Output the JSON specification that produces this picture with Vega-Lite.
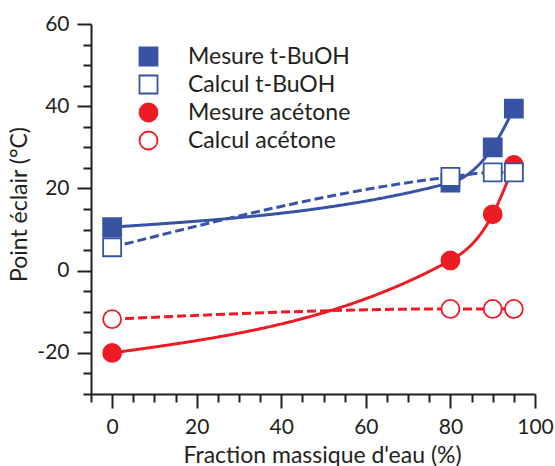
{
  "$schema": "https://vega.github.io/schema/vega-lite/v6.json",
  "width": 444,
  "height": 370,
  "autosize": {"type": "none"},
  "padding": {"left": 91, "top": 24, "right": 20, "bottom": 72},
  "background": "white",
  "config": {
    "view": {"stroke": null},
    "font": "Lato",
    "axis": {
      "domainColor": "#231f20",
      "domainWidth": 2,
      "tickColor": "#231f20",
      "tickWidth": 2,
      "grid": false,
      "labelColor": "#231f20",
      "labelFontSize": 21,
      "labelFont": "Lato",
      "titleColor": "#231f20",
      "titleFontSize": 23,
      "titleFont": "Lato",
      "titleFontWeight": "normal"
    },
    "legend": {
      "labelFontSize": 23,
      "labelFont": "Lato",
      "labelColor": "#231f20",
      "labelLimit": 400
    }
  },
  "data": {
    "values": [
      {"eau": 0, "t": -20, "serie": "Mesure acétone"},
      {"eau": 80, "t": 2.5, "serie": "Mesure acétone"},
      {"eau": 90, "t": 13.7, "serie": "Mesure acétone"},
      {"eau": 95, "t": 25.7, "serie": "Mesure acétone"},
      {"eau": 0, "t": -11.8, "serie": "Calcul acétone"},
      {"eau": 80, "t": -9.3, "serie": "Calcul acétone"},
      {"eau": 90, "t": -9.3, "serie": "Calcul acétone"},
      {"eau": 95, "t": -9.3, "serie": "Calcul acétone"},
      {"eau": 0, "t": 10.6, "serie": "Mesure t-BuOH"},
      {"eau": 80, "t": 21.4, "serie": "Mesure t-BuOH"},
      {"eau": 90, "t": 30, "serie": "Mesure t-BuOH"},
      {"eau": 95, "t": 39.4, "serie": "Mesure t-BuOH"},
      {"eau": 0, "t": 5.7, "serie": "Calcul t-BuOH"},
      {"eau": 80, "t": 22.8, "serie": "Calcul t-BuOH"},
      {"eau": 90, "t": 23.9, "serie": "Calcul t-BuOH"},
      {"eau": 95, "t": 23.9, "serie": "Calcul t-BuOH"}
    ]
  },
  "encoding": {
    "x": {
      "field": "eau",
      "type": "quantitative",
      "scale": {"domain": [-5, 100], "nice": false, "zero": false},
      "axis": {
        "title": "Fraction massique d'eau (%)",
        "values": [-5, 0, 5, 10, 15, 20, 25, 30, 35, 40, 45, 50, 55, 60, 65, 70, 75, 80, 85, 90, 95, 100],
        "labelExpr": "datum.value % 20 === 0 ? toString(datum.value) : ''",
        "tickSize": {"condition": {"test": "datum.value % 20 === 0", "value": 14}, "value": 8},
        "labelPadding": 8,
        "titlePadding": 7,
        "titleX": 231,
        "labelFlush": false,
        "labelOverlap": false
      }
    },
    "y": {
      "field": "t",
      "type": "quantitative",
      "scale": {"domain": [-30, 60], "nice": false, "zero": false},
      "axis": {
        "title": "Point éclair (°C)",
        "values": [-30, -25, -20, -15, -10, -5, 0, 5, 10, 15, 20, 25, 30, 35, 40, 45, 50, 55, 60],
        "labelExpr": "datum.value % 20 === 0 ? toString(datum.value) : ''",
        "tickSize": {"condition": {"test": "datum.value % 20 === 0", "value": 14}, "value": 8},
        "labelPadding": 8,
        "titlePadding": 5,
        "titleY": 180,
        "labelFlush": false,
        "labelOverlap": false
      }
    }
  },
  "layer": [
    {
      "mark": {"type": "line", "interpolate": "monotone", "strokeWidth": 3},
      "encoding": {
        "detail": {"field": "serie", "type": "nominal"},
        "stroke": {
          "condition": {"test": "indexof(datum.serie, 'acétone') >= 0", "value": "#ed1c24"},
          "value": "#3953a4"
        },
        "strokeDash": {
          "condition": {"test": "indexof(datum.serie, 'Calcul') >= 0", "value": [9, 4]},
          "value": [1, 0]
        }
      }
    },
    {
      "mark": {"type": "point", "size": 324, "strokeWidth": 1.8, "opacity": 1},
      "encoding": {
        "fill": {
          "field": "serie",
          "type": "nominal",
          "scale": {
            "domain": ["Mesure t-BuOH", "Calcul t-BuOH", "Mesure acétone", "Calcul acétone"],
            "range": ["#3953a4", "#ffffff", "#ed1c24", "#ffffff"]
          },
          "legend": {
            "title": null,
            "orient": "none",
            "legendX": 46,
            "legendY": 21,
            "padding": 0,
            "rowPadding": 1,
            "labelOffset": 28,
            "symbolSize": 324,
            "symbolStrokeWidth": 1.8
          }
        },
        "stroke": {
          "field": "serie",
          "type": "nominal",
          "scale": {
            "domain": ["Mesure t-BuOH", "Calcul t-BuOH", "Mesure acétone", "Calcul acétone"],
            "range": ["#3953a4", "#3953a4", "#ed1c24", "#ed1c24"]
          }
        },
        "shape": {
          "field": "serie",
          "type": "nominal",
          "scale": {
            "domain": ["Mesure t-BuOH", "Calcul t-BuOH", "Mesure acétone", "Calcul acétone"],
            "range": ["square", "square", "circle", "circle"]
          }
        }
      }
    }
  ]
}
